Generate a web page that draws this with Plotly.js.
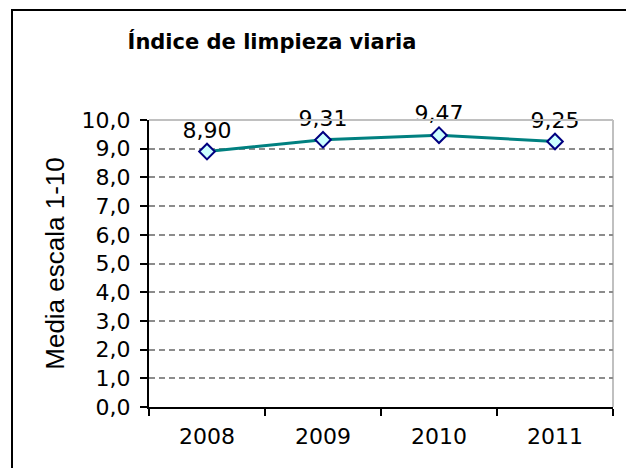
<!DOCTYPE html>
<html>
<head>
<meta charset="utf-8">
<script src="https://cdn.plot.ly/plotly-3.0.1.min.js"></script>
<style>
  html, body { margin: 0; padding: 0; background: #fff; }
  #wrap { position: relative; width: 626px; height: 468px; overflow: hidden; }
  #chart { position: absolute; left: 0; top: 0; width: 626px; height: 468px; }
  #frame { position: absolute; left: 11px; top: 9px; width: 700px; height: 600px;
           border-left: 2px solid #000; border-top: 2px solid #000; pointer-events: none; }
</style>
</head>
<body>
<div id="wrap">
  <div id="chart"></div>
  <div id="frame"></div>
</div>
<script>
const years = ['2008', '2009', '2010', '2011'];
const values = [8.90, 9.31, 9.47, 9.25];
const valueLabels = ['8,90', '9,31', '9,47', '9,25'];
const yTickVals = [0, 1, 2, 3, 4, 5, 6, 7, 8, 9, 10];
const yTickText = ['0,0', '1,0', '2,0', '3,0', '4,0', '5,0', '6,0', '7,0', '8,0', '9,0', '10,0'];

const FONT = 'DejaVu Sans, Verdana, sans-serif';

const trace = {
  type: 'scatter',
  mode: 'lines+markers+text',
  x: years,
  y: values,
  text: valueLabels,
  textposition: 'top center',
  textfont: { family: FONT, size: 22, color: '#000' },
  line: { color: '#008080', width: 3 },
  marker: { symbol: 'diamond', size: 12, color: '#ccffff', line: { color: '#000080', width: 2 } },
  cliponaxis: false,
  hoverinfo: 'skip'
};

const layout = {
  width: 626, height: 468,
  margin: { l: 149, r: 13, t: 120, b: 61 },
  paper_bgcolor: '#fff', plot_bgcolor: '#fff',
  showlegend: false,
  font: { family: FONT, size: 22, color: '#000' },
  title: {
    text: '<b>Índice de limpieza viaria</b>',
    font: { family: FONT, size: 21, color: '#000' },
    x: 272 / 626, xref: 'container', xanchor: 'center',
    y: 1 - 42 / 468, yref: 'container', yanchor: 'middle'
  },
  xaxis: {
    type: 'category',
    range: [-0.5, 3.5],
    tickson: 'boundaries',
    ticks: 'outside', ticklen: 7, tickwidth: 2, tickcolor: '#000',
    showline: true, linecolor: '#000', linewidth: 2,
    showgrid: false, zeroline: false,
    tickfont: { family: FONT, size: 22, color: '#000' },
    ticklabelstandoff: 9,
    fixedrange: true
  },
  yaxis: {
    range: [0, 10],
    tickvals: yTickVals,
    ticktext: yTickText,
    ticks: 'outside', ticklen: 7, tickwidth: 2, tickcolor: '#000',
    showline: true, linecolor: '#000', linewidth: 2,
    showgrid: true, gridcolor: '#8c8c8c', gridwidth: 2, griddash: '6px,4px',
    zeroline: false,
    tickfont: { family: FONT, size: 22, color: '#000' },
    ticklabelstandoff: 5,
    title: {
      text: 'Media escala 1-10',
      font: { family: 'Liberation Sans, Arial, sans-serif', size: 26, color: '#000' },
      standoff: 10
    },
    automargin: false,
    fixedrange: true
  },
  shapes: [
    { type: 'line', xref: 'paper', yref: 'paper', x0: 0, x1: 1, y0: 1, y1: 1,
      line: { color: '#c0c0c0', width: 2 }, layer: 'above' },
    { type: 'line', xref: 'paper', yref: 'paper', x0: 1, x1: 1, y0: 0, y1: 1,
      line: { color: '#c0c0c0', width: 2 }, layer: 'below' }
  ]
};

Plotly.newPlot('chart', [trace], layout, { staticPlot: true, displayModeBar: false });
</script>
</body>
</html>
